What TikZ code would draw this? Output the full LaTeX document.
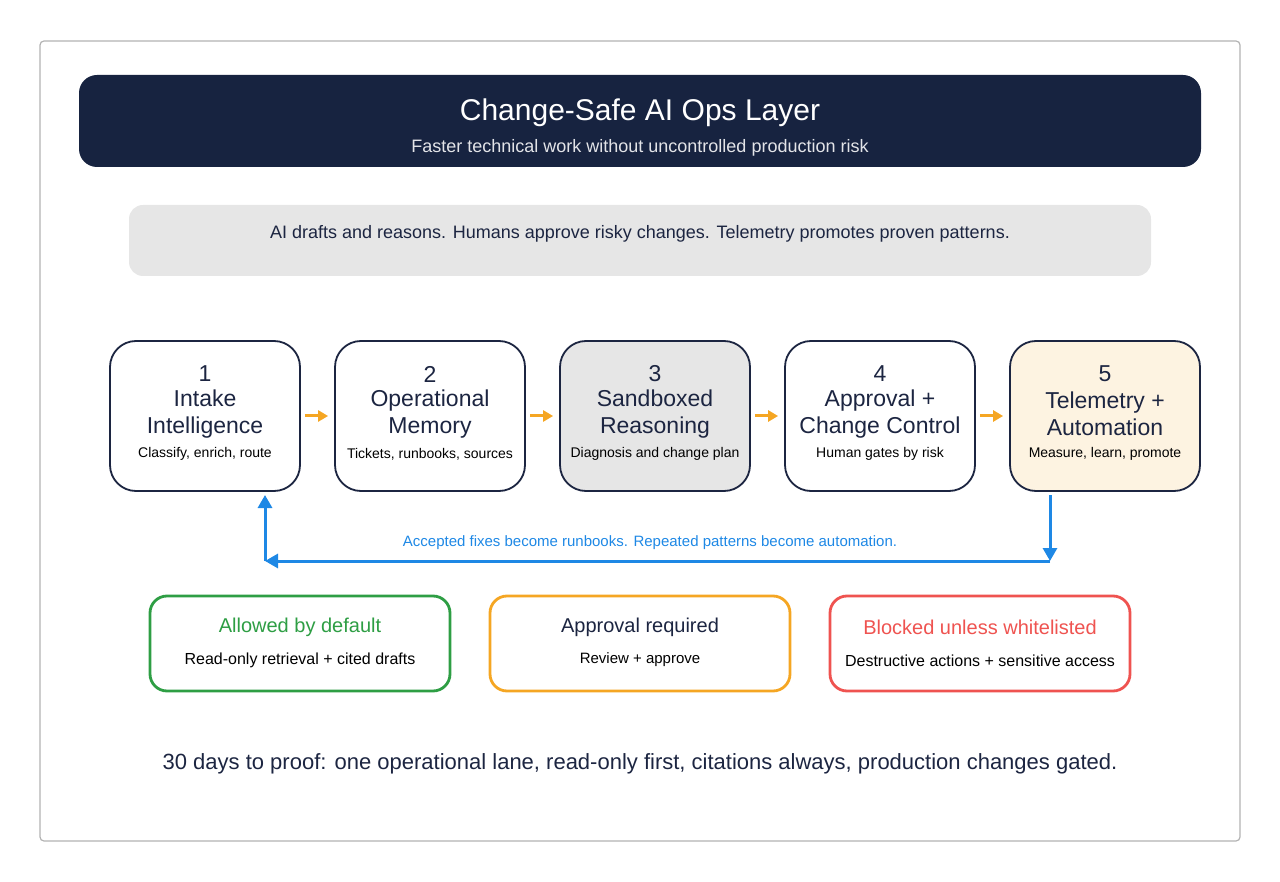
\documentclass[tikz,border=0pt]{standalone}
\usepackage{fontspec}
\setmainfont{Liberation Sans}
\usetikzlibrary{arrows.meta,positioning}
\definecolor{navy}{HTML}{172340}
\definecolor{ink}{HTML}{1C2541}
\definecolor{flow}{HTML}{F5A623}
\definecolor{loop}{HTML}{1E88E5}
\definecolor{okg}{HTML}{2E9E44}
\definecolor{warn}{HTML}{F5A623}
\definecolor{bad}{HTML}{EF5350}
\definecolor{cream}{HTML}{FDF3E1}
\definecolor{lgray}{HTML}{E6E6E6}
\tikzset{
 stage/.style={draw=ink,line width=1.8pt,rounded corners=26pt,minimum width=190pt,minimum height=150pt,fill=white},
 big/.style={font=\fontsize{23}{27}\selectfont,text=ink,align=center},
 small/.style={font=\fontsize{14}{16}\selectfont,text=black},
 legend/.style={line width=2.8pt,rounded corners=17pt,minimum width=300pt,minimum height=95pt,fill=white},
 flowarrow/.style={draw=flow,line width=3pt,-{Triangle[length=10pt,width=11pt]}},
 looparrow/.style={draw=loop,line width=3pt,-{Triangle[length=13pt,width=14pt]}}
}
\begin{document}
\begin{tikzpicture}[x=1pt,y=-1pt]
\useasboundingbox (0,0) rectangle (1280,882);
\draw[draw=gray!60,line width=1.2pt,rounded corners=4pt] (40,41) rectangle (1240,841);
\node[fill=navy,rounded corners=18pt,minimum width=1122pt,minimum height=92pt] (hdr) at (640,121) {};
\node[font=\fontsize{30}{34}\selectfont,text=white] (title) at (640,113) {Change-Safe AI Ops Layer};
\node[font=\fontsize{18}{20}\selectfont,text=white!88!navy] (sub) at (640,147.5) {Faster technical work without uncontrolled production risk};
\node[fill=lgray,rounded corners=14pt,minimum width=1022pt,minimum height=71pt] (ban) at (640,240.5) {};
\node[font=\fontsize{18}{20}\selectfont,text=ink] (bantext) at (640,233.5) {AI drafts and reasons. Humans approve risky changes. Telemetry promotes proven patterns.};
\foreach \i/\x/\fc/\a/\b/\s in {1/205/white/Intake/Intelligence/{Classify, enrich, route},
 2/430/white/Operational/Memory/{Tickets, runbooks, sources},
 3/655/lgray/Sandboxed/Reasoning/{Diagnosis and change plan},
 4/880/white/Approval +/Change Control/{Human gates by risk},
 5/1105/cream/Telemetry +/Automation/{Measure, learn, promote}}{
 \node[stage,fill=\fc] (s\i) at (\x,416) {};
 \node[big] (n\i) at (\x,374) {\i};
 \node[big] (t\i) at (\x,414) {\a\\\b};
 \node[small] (d\i) at (\x,454) {\s};
}
\foreach \a/\b in {1/2,2/3,3/4,4/5}{\draw[flowarrow] ([xshift=4pt]s\a.east) -- ([xshift=-6pt]s\b.west);}
\coordinate (cR) at (1050,561);
\coordinate (cL) at (265,561);
\draw[looparrow] (1050,495) -- (cR);
\draw[looparrow] (cR) -- (cL);
\draw[looparrow] (cL) -- (265,495);
\node[font=\fontsize{15}{17}\selectfont,text=loop] (lab) at (650,543) {Accepted fixes become runbooks. Repeated patterns become automation.};
\node[legend,draw=okg] (l1) at (300,643.5) {};
\node[legend,draw=warn] (l2) at (640,643.5) {};
\node[legend,draw=bad] (l3) at (980,643.5) {};
\node[font=\fontsize{20}{22}\selectfont,text=okg] (l1t) at (300,627.5) {Allowed by default};
\node[font=\fontsize{20}{22}\selectfont,text=ink] (l2t) at (640,627.5) {Approval required};
\node[font=\fontsize{20}{22}\selectfont,text=bad] (l3t) at (980,627.5) {Blocked unless whitelisted};
\node[font=\fontsize{16}{18}\selectfont] (l1s) at (300,660.5) {Read-only retrieval + cited drafts};
\node[font=\fontsize{15}{17}\selectfont] (l2s) at (640,660) {Review + approve};
\node[font=\fontsize{16}{18}\selectfont] (l3s) at (980,660.5) {Destructive actions + sensitive access};
\node[font=\fontsize{22}{24}\selectfont,text=ink] (foot) at (640,764) {30 days to proof: one operational lane, read-only first, citations always, production changes gated.};
\end{tikzpicture}
\end{document}
